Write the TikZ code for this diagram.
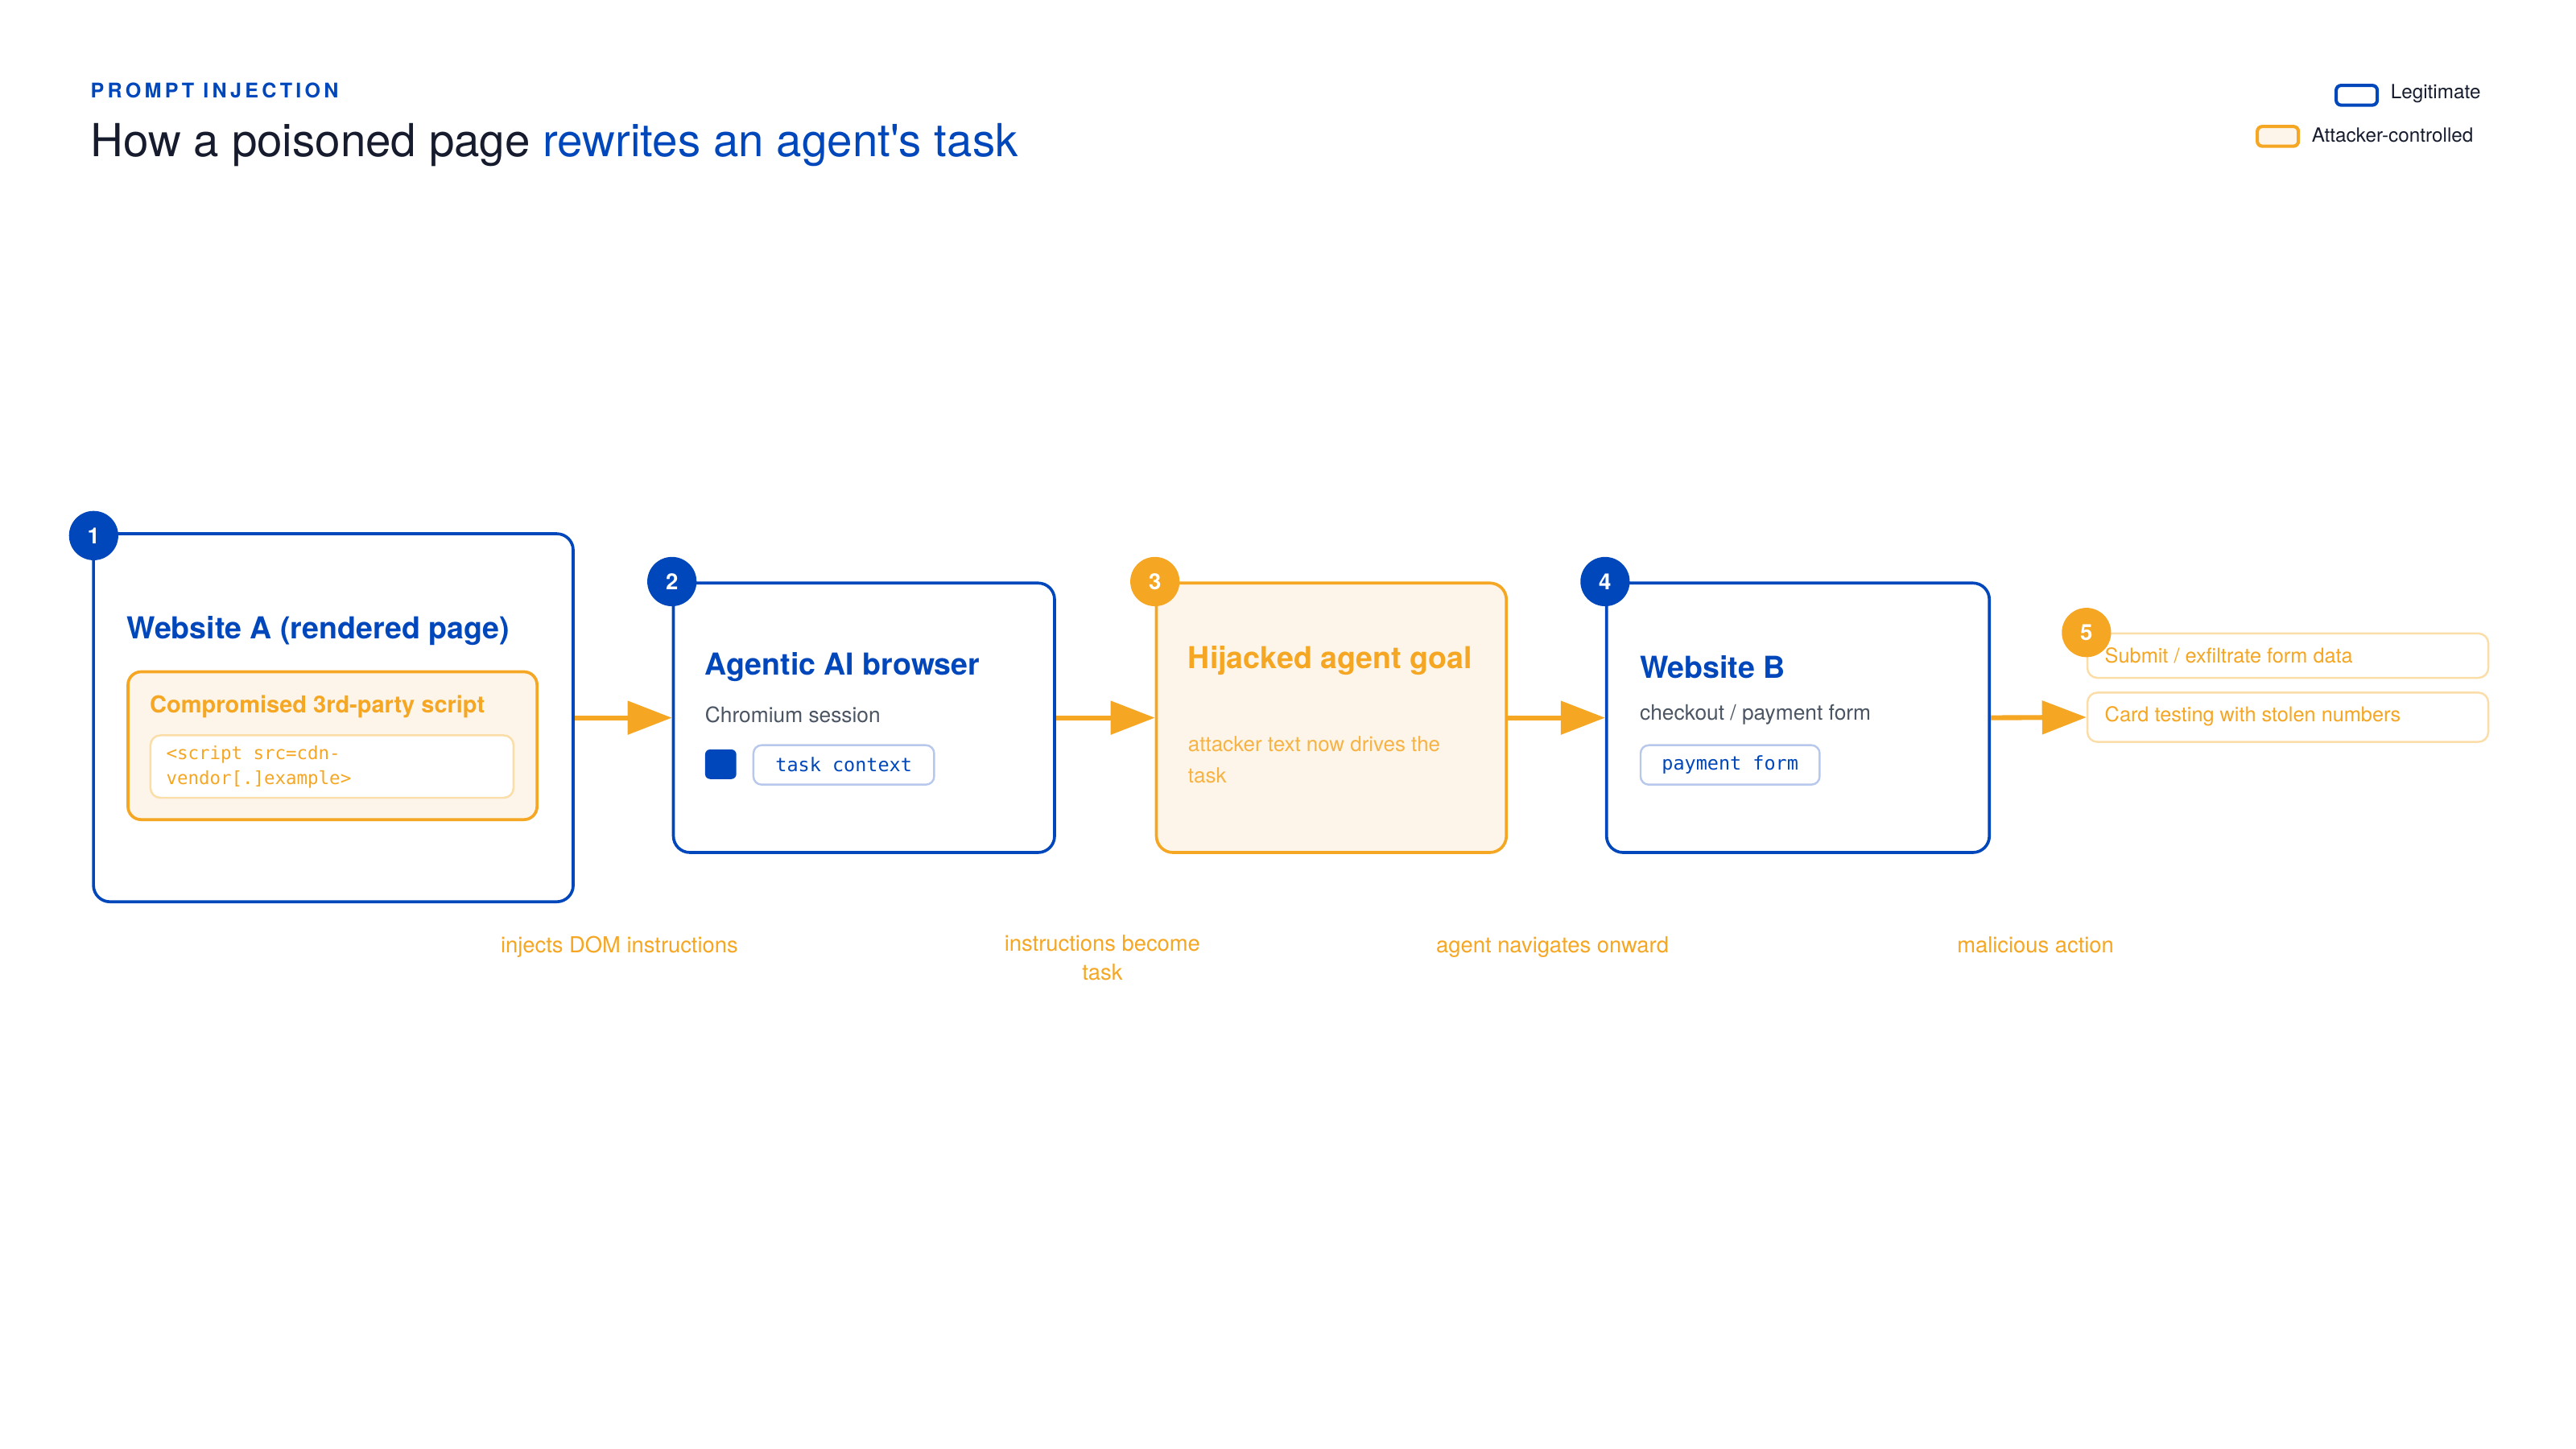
\documentclass[tikz,border=0pt]{standalone}
\usepackage{fontspec}
\setmainfont{TeX Gyre Heros}
\setmonofont{DejaVu Sans Mono}
\usetikzlibrary{arrows.meta,positioning}

\definecolor{brandblue}{HTML}{0047BB}
\definecolor{attackorange}{HTML}{F5A623}
\definecolor{attackfill}{HTML}{FDF5E9}
\definecolor{softorange}{HTML}{FBDDA8}
\definecolor{pillblue}{HTML}{B8C8EC}
\definecolor{inkdark}{HTML}{161C2D}
\definecolor{inkgrey}{HTML}{4B5563}

\tikzset{
  legitbox/.style={draw=brandblue, line width=1.8pt, rounded corners=10pt, fill=white, anchor=north west, inner sep=0pt},
  attackbox/.style={draw=attackorange, line width=1.8pt, rounded corners=10pt, fill=attackfill, anchor=north west, inner sep=0pt},
  stepdot/.style={circle, fill=#1, text=white, minimum size=30pt, inner sep=0pt, font=\bfseries\fontsize{13.5}{13.5}\selectfont},
  boxtitle/.style={anchor=west, inner sep=0pt, font=\bfseries\fontsize{18.4}{21}\selectfont},
  boxnote/.style={anchor=west, inner sep=0pt, text=inkgrey, font=\fontsize{12.9}{15}\selectfont},
  codepill/.style={draw=pillblue, line width=1.2pt, rounded corners=5pt, fill=white, text=brandblue, anchor=north west, inner sep=0pt, font=\ttfamily\fontsize{11.5}{14}\selectfont},
  outbox/.style={draw=softorange, line width=1.2pt, rounded corners=6pt, fill=white, anchor=north west, inner sep=0pt, minimum width=244pt},
  outtext/.style={anchor=west, inner sep=0pt, text=attackorange, font=\fontsize{12.4}{14}\selectfont},
  flowlabel/.style={inner sep=0pt, text=attackorange, align=center, font=\fontsize{13.4}{17.5}\selectfont},
  flowarrow/.style={draw=attackorange, line width=3pt, -{Triangle[length=27pt,width=20pt]}},
  legendkey/.style={rounded corners=3pt, line width=2pt, minimum width=25pt, minimum height=12pt, inner sep=0pt, anchor=north west},
  legendtext/.style={anchor=west, inner sep=0pt, text=inkdark, font=\fontsize{11.9}{14}\selectfont}
}

\begin{document}
\begin{tikzpicture}[x=1pt, y=-1pt]
    \useasboundingbox (0,0) rectangle (1568,882);

    % heading
    \node[anchor=west, inner sep=0pt, text=brandblue, font=\bfseries\fontsize{12.3}{14}\selectfont\addfontfeature{LetterSpace=17}] (kicker) at (55,55) {PROMPT INJECTION};
    \node[anchor=west, inner sep=0pt, text=inkdark, font=\fontsize{27.7}{32}\selectfont] (heading) at (55,88) {How a poisoned page \textcolor{brandblue}{rewrites an agent\textquotesingle s task}};

    % legend
    \node[legendkey, draw=brandblue, fill=white] (keyLegit) at (1421,51) {};
    \node[legendtext] at (1455,57) {Legitimate};
    \node[legendkey, draw=attackorange, fill=attackfill] (keyAttack) at (1373,76) {};
    \node[legendtext] at (1407,82) {Attacker-controlled};

    % step 1
    \node[legitbox, minimum width=292pt, minimum height=224pt] (siteA) at (56,324) {};
    \node[boxtitle, text=brandblue] (siteAtitle) at (77,384) {Website A (rendered page)};
    \node[attackbox, rounded corners=8pt, minimum width=249pt, minimum height=90pt] (script) at (77,408) {};
    \node[boxtitle, text=attackorange, font=\bfseries\fontsize{14.2}{17}\selectfont] (scripttitle) at (91,430) {Compromised 3rd-party script};
    \node[anchor=north west, draw=softorange, line width=1.2pt, rounded corners=6pt, fill=white, minimum width=221pt, minimum height=38pt, inner sep=0pt] (scriptcode) at (91,447) {};
    \node[anchor=north west, inner sep=0pt, align=left, text=attackorange, font=\ttfamily\fontsize{11}{15}\selectfont] (scripttext) at (101,454) {<script src=cdn-\\vendor[.]example>};

    % step 2
    \node[legitbox, minimum width=232pt, minimum height=164pt] (browser) at (409,354) {};
    \node[boxtitle, text=brandblue] (browsertitle) at (429,406) {Agentic AI browser};
    \node[boxnote] (browsernote) at (429,435) {Chromium session};
    \node[anchor=north west, fill=brandblue, rounded corners=3pt, minimum width=19pt, minimum height=18pt, inner sep=0pt] (ctxdot) at (429,456) {};
    \node[codepill, minimum width=110pt, minimum height=24pt] (ctxpill) at (458,453) {task context};

    % step 3
    \node[attackbox, minimum width=213pt, minimum height=164pt] (goal) at (703,354) {};
    \node[boxtitle, text=attackorange] (goaltitle) at (723,402) {Hijacked agent goal};
    \node[anchor=north west, inner sep=0pt, align=left, text=attackorange!85, font=\fontsize{12.7}{19}\selectfont] (goalnote) at (723,448) {attacker text now drives the\\task};

    % step 4
    \node[legitbox, minimum width=233pt, minimum height=164pt] (siteB) at (977,354) {};
    \node[boxtitle, text=brandblue] (siteBtitle) at (998,406) {Website B};
    \node[boxnote] (siteBnote) at (998,435) {checkout / payment form};
    \node[codepill, minimum width=109pt, minimum height=24pt] (formpill) at (998,453) {payment form};

    % step 5
    \node[outbox, minimum height=27pt] (exfil) at (1270,385) {};
    \node[outtext] at (1281,399) {Submit / exfiltrate form data};
    \node[outbox, minimum height=30pt] (cardtest) at (1270,421) {};
    \node[outtext] at (1281,436) {Card testing with stolen numbers};

    % step badges
    \node[stepdot=brandblue] (num1) at (57,326) {1};
    \node[stepdot=brandblue] (num2) at (browser.north west) {2};
    \node[stepdot=attackorange] (num3) at (goal.north west) {3};
    \node[stepdot=brandblue] (num4) at (siteB.north west) {4};
    \node[stepdot=attackorange] (num5) at (exfil.north west) {5};

    % flow
    \draw[flowarrow] (siteA.east) -- (browser.west);
    \draw[flowarrow] (browser.east) -- (goal.west);
    \draw[flowarrow] (goal.east) -- (siteB.west);
    \draw[flowarrow] (siteB.east) -- (cardtest.west);

    \node[flowlabel, anchor=base] (lab1) at (377,580) {injects DOM instructions};
    \node[flowlabel, anchor=north] (lab2) at (671,569) {instructions become\\task};
    \node[flowlabel, anchor=base] (lab3) at (945,580) {agent navigates onward};
    \node[flowlabel, anchor=base] (lab4) at (1239,580) {malicious action};
\end{tikzpicture}
\end{document}
